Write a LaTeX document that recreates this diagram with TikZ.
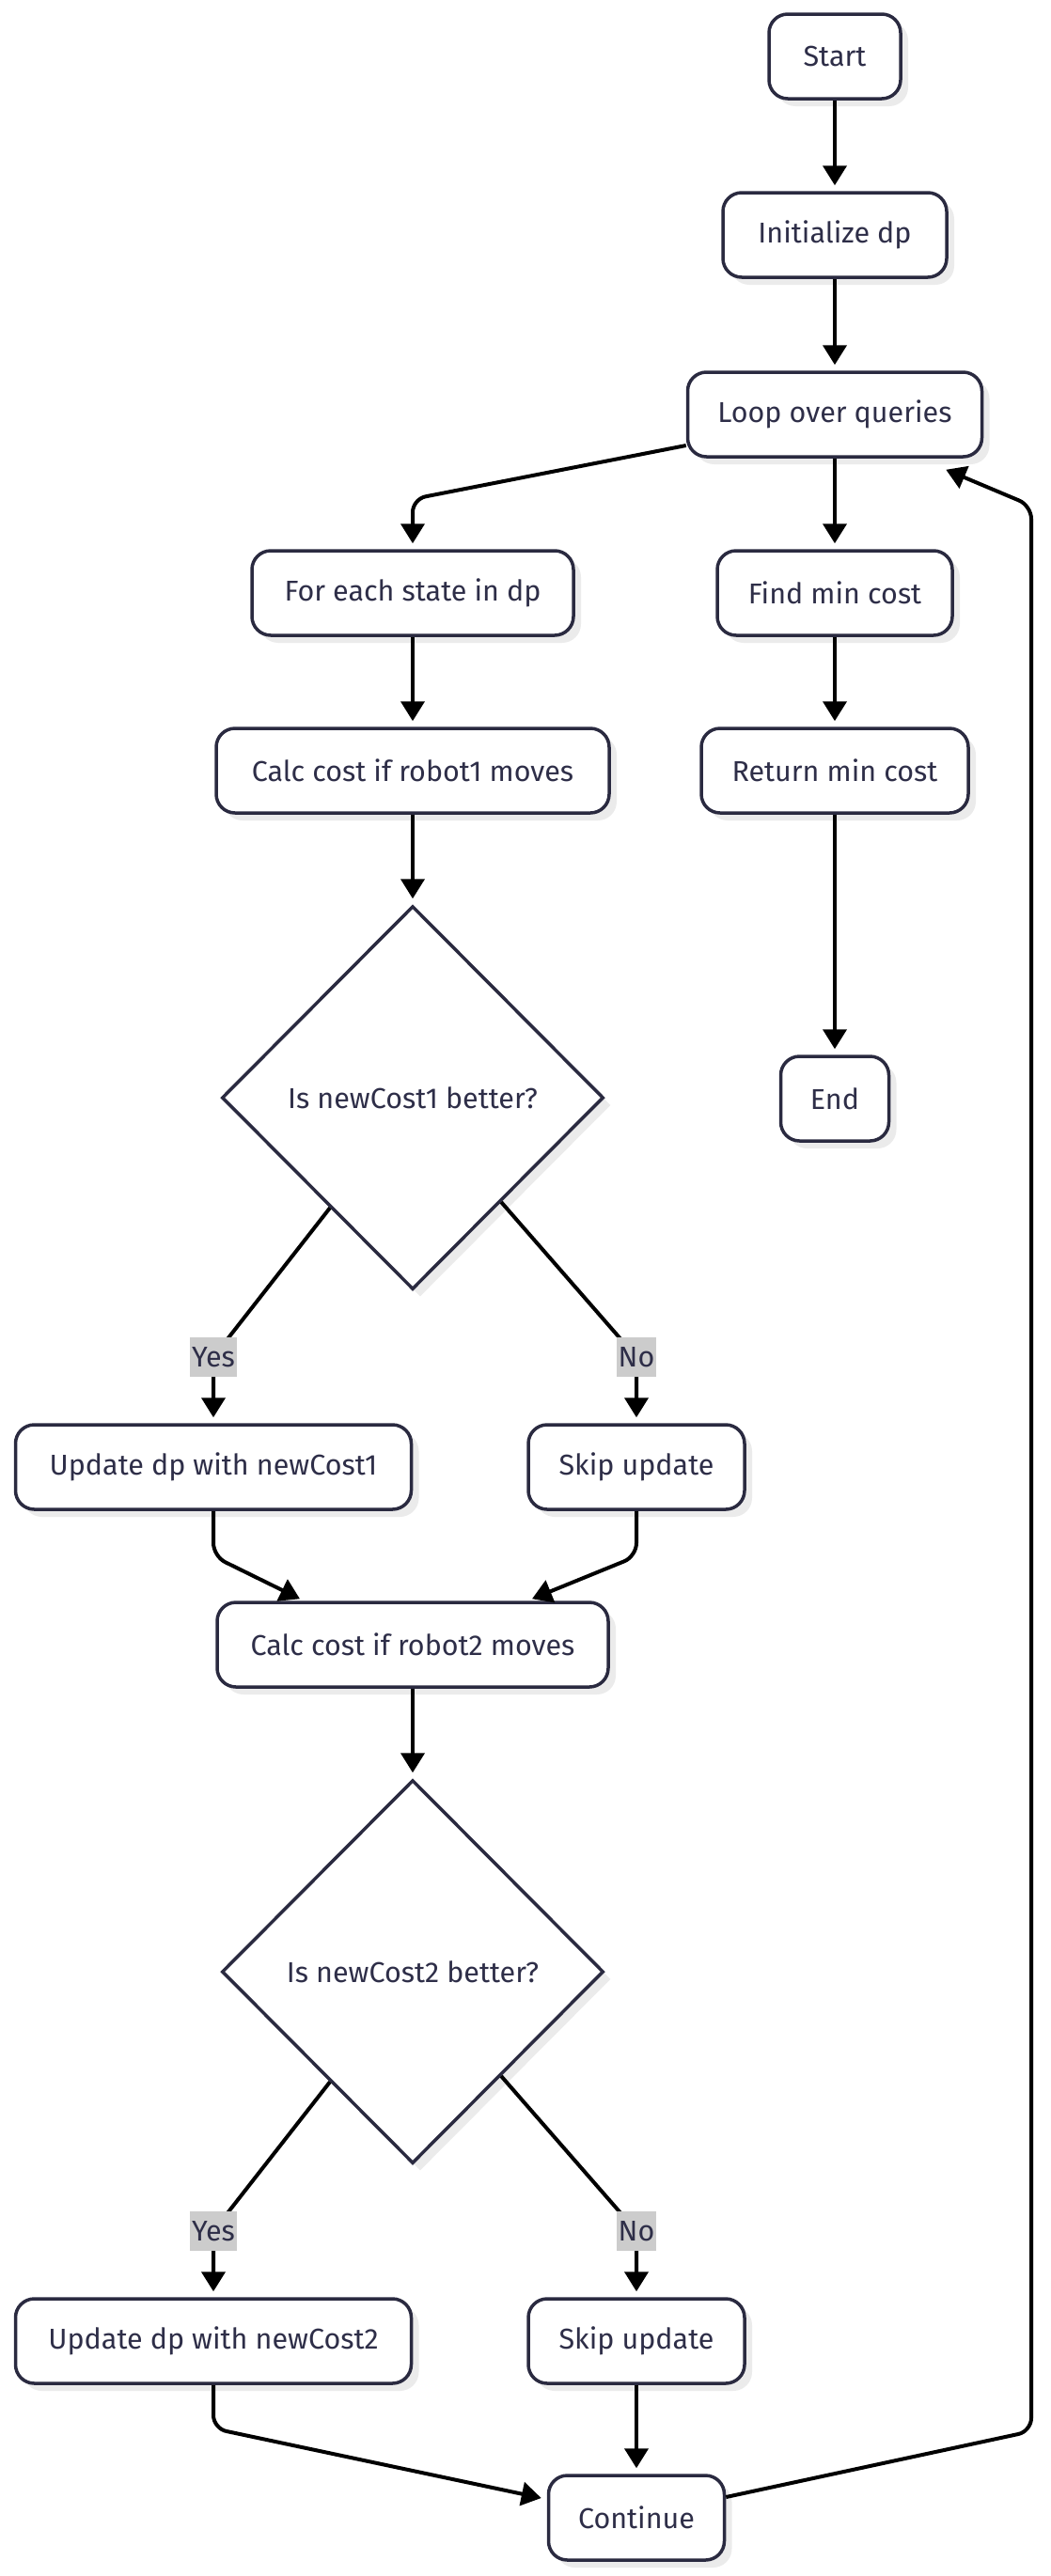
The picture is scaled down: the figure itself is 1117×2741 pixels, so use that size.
\documentclass[tikz,border=0pt]{standalone}
\usepackage{fontspec}
\setmainfont{Fira Sans}
\usetikzlibrary{shapes.geometric,arrows.meta,shadows,calc}
\definecolor{nodec}{HTML}{2A2A40}
\definecolor{textc}{HTML}{2E2E48}
\definecolor{shadowc}{HTML}{EBEBEB}
\definecolor{lblc}{HTML}{CCCCCC}
\begin{document}
\begin{tikzpicture}[x=1pt,y=-1pt,
  box/.style={draw=nodec, line width=3.5pt, fill=white, rounded corners=20pt,
    minimum height=90pt, inner sep=0pt, text=textc,
    font=\fontsize{30.5}{36}\selectfont,
    drop shadow={shadow xshift=8pt, shadow yshift=-8pt, fill=shadowc, opacity=1}},
  dec/.style={diamond, draw=nodec, line width=3.5pt, fill=white, minimum width=406pt,
    minimum height=408pt, inner sep=0pt, text=textc, font=\fontsize{30.5}{36}\selectfont,
    drop shadow={shadow xshift=8pt, shadow yshift=-8pt, fill=shadowc, opacity=1}},
  lbl/.style={fill=lblc, text=textc, inner xsep=2pt, inner ysep=0pt, minimum height=42pt,
    font=\fontsize{30.5}{36}\selectfont},
  edge/.style={line width=4pt, draw=black, rounded corners=14pt,
    -{Triangle[length=21pt,width=25pt]}}
]
\useasboundingbox (0,0) rectangle (1117,2741);

% nodes
\node[box, minimum width=140pt] (start) at (888,60) {Start};
\node[box, minimum width=238pt] (init) at (888,250) {Initialize dp};
\node[box, minimum width=313pt] (loop) at (888,441) {Loop over queries};
\node[box, minimum width=342pt] (foreach) at (439,631) {For each state in dp};
\node[box, minimum width=418pt] (calc1) at (439,820) {Calc cost if robot1 moves};
\node[box, minimum width=250pt] (find) at (888,631) {Find min cost};
\node[box, minimum width=284pt] (ret) at (888,820) {Return min cost};
\node[box, minimum width=115pt] (end) at (888,1169) {End};
\node[dec] (d1) at (439,1168) {Is newCost1 better?};
\node[box, minimum width=421pt] (upd1) at (227,1561) {Update dp with newCost1};
\node[box, minimum width=230pt] (skip1) at (677,1561) {Skip update};
\node[box, minimum width=416pt] (calc2) at (439,1750) {Calc cost if robot2 moves};
\node[dec] (d2) at (439,2098) {Is newCost2 better?};
\node[box, minimum width=421pt] (upd2) at (227,2491) {Update dp with newCost2};
\node[box, minimum width=230pt] (skip2) at (677,2491) {Skip update};
\node[box, minimum width=187pt] (cont) at (677,2679) {Continue};

% label positions
\coordinate (y1) at (227,1444);
\coordinate (n1) at (677,1444);
\coordinate (y2) at (227,2374);
\coordinate (n2) at (677,2374);

% edges
\draw[edge, shorten >=6pt] (start.south) -- (init.north);
\draw[edge, shorten >=6pt] (init.south) -- (loop.north);
\draw[edge, shorten >=6pt] ($(loop.west)+(0,33)$) -- (439,531) -- (foreach.north);
\draw[edge, shorten >=6pt] (loop.south) -- (find.north);
\draw[edge, shorten >=6pt] (find.south) -- (ret.north);
\draw[edge, shorten >=6pt] (ret.south) -- (end.north);
\draw[edge, shorten >=6pt] (foreach.south) -- (calc1.north);
\draw[edge, shorten >=6pt] (calc1.south) -- (d1.north);

\draw[edge, shorten >=6pt, rounded corners=0pt] ($(d1.west)!0.57!(d1.south)$) -- (y1) -- (upd1.north);
\draw[edge, shorten >=6pt, rounded corners=0pt] ($(d1.east)!0.54!(d1.south)$) -- (n1) -- (skip1.north);
\draw[edge] (upd1.south) -- (227,1656) -- ($(calc2.north)+(-120,-2)$);
\draw[edge] (skip1.south) -- (677,1656) -- ($(calc2.north)+(127,-2)$);
\draw[edge, shorten >=6pt] (calc2.south) -- (d2.north);

\draw[edge, shorten >=6pt, rounded corners=0pt] ($(d2.west)!0.57!(d2.south)$) -- (y2) -- (upd2.north);
\draw[edge, shorten >=6pt, rounded corners=0pt] ($(d2.east)!0.54!(d2.south)$) -- (n2) -- (skip2.north);
\draw[edge] (upd2.south) -- (227,2584) -- ($(cont.west)+(-6,-21)$);
\draw[edge, shorten >=6pt] (skip2.south) -- (cont.north);
\draw[edge] ($(cont.east)+(0,-22)$) -- (1097,2587) -- (1097,538) -- ($(loop.south east)+(-40,12)$);

% labels
\node[lbl] (yes1) at (y1) {Yes};
\node[lbl] (no1) at (n1) {No};
\node[lbl] (yes2) at (y2) {Yes};
\node[lbl] (no2) at (n2) {No};
\end{tikzpicture}
\end{document}
